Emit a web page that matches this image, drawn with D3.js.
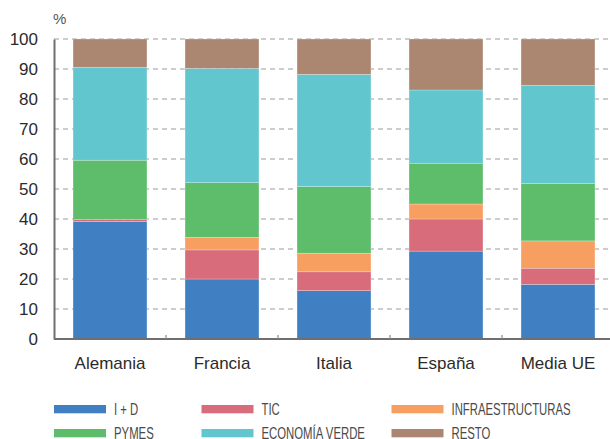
<!DOCTYPE html>
<html><head><meta charset="utf-8">
<script src="https://cdn.jsdelivr.net/npm/d3@7"></script>
<style>body{margin:0;background:#fff}svg{display:block}</style>
</head><body>
<svg id="c" width="610" height="439"></svg>
<script>
const categories = ["Alemania", "Francia", "Italia", "España", "Media UE"];
const seriesNames = ["I + D", "TIC", "INFRAESTRUCTURAS", "PYMES", "ECONOMÍA VERDE", "RESTO"];
const idValues    = [39.1, 20.0, 16.1, 29.3, 18.2];
const ticValues   = [0.7, 9.7, 6.3, 10.7, 5.4];
const infraValues = [0.0, 4.2, 6.2, 5.0, 9.1];
const pymesValues = [19.8, 18.2, 22.2, 13.6, 19.2];
const verdeValues = [31.0, 38.1, 37.4, 24.4, 32.7];
const restoValues = [9.4, 9.8, 11.8, 17.0, 15.4];
const yTicks = [0, 10, 20, 30, 40, 50, 60, 70, 80, 90, 100];
const colors = ["#3f7fc2", "#d86c7a", "#f69f61", "#5ebd6a", "#62c6ce", "#ab8671"];

const seriesValues = [idValues, ticValues, infraValues, pymesValues, verdeValues, restoValues];
const table = categories.map((c, i) => {
  const o = {cat: c};
  seriesNames.forEach((s, j) => o[s] = seriesValues[j][i]);
  return o;
});
const stacked = d3.stack().keys(seriesNames)(table);

const svg = d3.select("#c");
const x = d3.scaleBand().domain(categories).range([54, 614]).paddingInner(0.34).paddingOuter(0.17);
const y = d3.scaleLinear().domain([0, 100]).range([339, 39]);

// grid
svg.append("g").selectAll("line").data(yTicks.filter(d => d > 0)).join("line")
  .attr("x1", 54).attr("x2", 610)
  .attr("y1", d => y(d)).attr("y2", d => y(d))
  .attr("stroke", "#bdbdbd").attr("stroke-width", 1.5).attr("stroke-dasharray", "5,4");

// bars
svg.append("g").selectAll("g").data(stacked).join("g")
  .attr("fill", (d, i) => colors[i])
  .selectAll("rect").data(d => d).join("rect")
  .attr("x", d => x(d.data.cat))
  .attr("width", x.bandwidth())
  .attr("y", d => y(d[1]))
  .attr("height", d => Math.max(0, y(d[0]) - y(d[1])))
  .attr("stroke", "#fff").attr("stroke-opacity", 0.4).attr("stroke-width", 0.6);

// y axis
const yAxis = svg.append("g").attr("transform", "translate(54,0)")
  .call(d3.axisLeft(y).tickValues(yTicks).tickSize(0).tickPadding(16));
yAxis.select(".domain").attr("stroke", "#6f6f6f").attr("stroke-width", 2);
yAxis.selectAll("text").attr("font-family", "Liberation Sans, Arial, sans-serif")
  .attr("font-size", 17).attr("fill", "#2b2b2b");

// x axis
const xAxis = svg.append("g").attr("transform", "translate(0,339)")
  .call(d3.axisBottom(x).tickSize(0).tickPadding(18));
xAxis.select(".domain").attr("d", "M54,0H610").attr("stroke", "#6f6f6f").attr("stroke-width", 2);
xAxis.selectAll("text").attr("font-family", "Liberation Sans, Arial, sans-serif")
  .attr("font-size", 17).attr("fill", "#2b2b2b");
// boundary ticks between categories
svg.append("g").selectAll("line").data(categories.slice(1)).join("line")
  .attr("x1", d => x(d) - x.step() * x.paddingInner() / 2)
  .attr("x2", d => x(d) - x.step() * x.paddingInner() / 2)
  .attr("y1", 339).attr("y2", 335)
  .attr("stroke", "#8a8a8a").attr("stroke-width", 1.2);

// % label
svg.append("text").attr("x", 53).attr("y", 24).text("%")
  .attr("font-family", "Liberation Sans, Arial, sans-serif").attr("font-size", 15).attr("fill", "#555");

// legend
const legX = [54, 201.5, 391.5];
const legY = [405, 429];
const leg = svg.append("g").selectAll("g").data(seriesNames).join("g")
  .attr("transform", (d, i) => `translate(${legX[i % 3]},${legY[Math.floor(i / 3)]})`);
leg.append("rect").attr("x", 0).attr("y", 0).attr("width", 52).attr("height", 8.3)
  .attr("fill", (d, i) => colors[i]);
leg.append("text").attr("transform", "translate(60,9.7) scale(0.71,1)").text(d => d)
  .attr("font-family", "Liberation Sans, Arial, sans-serif")
  .attr("font-size", 16).attr("fill", "#4a4a4a");
</script>
</body></html>
